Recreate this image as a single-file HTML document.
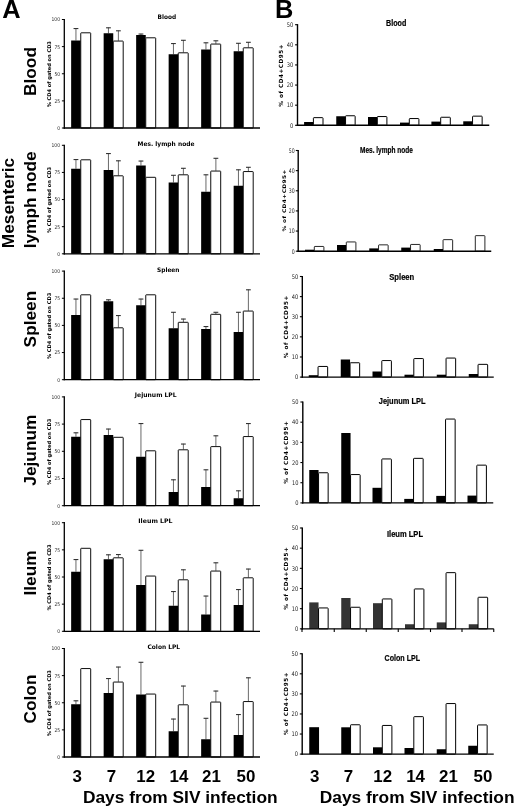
<!DOCTYPE html>
<html><head><meta charset="utf-8"><title>Figure</title>
<style>
html,body{margin:0;padding:0;background:#fff;}
svg{display:block;filter:blur(0.35px);}
</style></head>
<body>
<svg width="520" height="809" viewBox="0 0 520 809">
<rect width="520" height="809" fill="#fff"/>
<g id="a0">
<line x1="75.95" y1="28.25" x2="75.95" y2="40.50" stroke="#6a6a6a" stroke-width="1"/>
<line x1="73.55" y1="28.55" x2="78.35" y2="28.55" stroke="#333" stroke-width="1.1"/>
<rect x="71.15" y="40.50" width="9.60" height="87.50" fill="#000"/>
<rect x="80.75" y="32.80" width="9.95" height="95.20" rx="0.5" fill="#fff" stroke="#000" stroke-width="0.95"/>
<line x1="108.45" y1="27.50" x2="108.45" y2="33.25" stroke="#6a6a6a" stroke-width="1"/>
<line x1="106.05" y1="27.80" x2="110.85" y2="27.80" stroke="#333" stroke-width="1.1"/>
<line x1="118.38" y1="30.50" x2="118.38" y2="40.75" stroke="#6a6a6a" stroke-width="1"/>
<line x1="115.97" y1="30.80" x2="120.78" y2="30.80" stroke="#333" stroke-width="1.1"/>
<rect x="103.65" y="33.25" width="9.60" height="94.75" fill="#000"/>
<rect x="113.25" y="41.05" width="9.95" height="86.95" rx="0.5" fill="#fff" stroke="#000" stroke-width="0.95"/>
<line x1="140.95" y1="33.75" x2="140.95" y2="35.00" stroke="#6a6a6a" stroke-width="1"/>
<line x1="138.55" y1="34.05" x2="143.35" y2="34.05" stroke="#333" stroke-width="1.1"/>
<rect x="136.15" y="35.00" width="9.60" height="93.00" fill="#000"/>
<rect x="145.75" y="37.80" width="9.95" height="90.20" rx="0.5" fill="#fff" stroke="#000" stroke-width="0.95"/>
<line x1="173.45" y1="43.25" x2="173.45" y2="54.25" stroke="#6a6a6a" stroke-width="1"/>
<line x1="171.05" y1="43.55" x2="175.85" y2="43.55" stroke="#333" stroke-width="1.1"/>
<line x1="183.38" y1="40.00" x2="183.38" y2="52.50" stroke="#6a6a6a" stroke-width="1"/>
<line x1="180.97" y1="40.30" x2="185.78" y2="40.30" stroke="#333" stroke-width="1.1"/>
<rect x="168.65" y="54.25" width="9.60" height="73.75" fill="#000"/>
<rect x="178.25" y="52.80" width="9.95" height="75.20" rx="0.5" fill="#fff" stroke="#000" stroke-width="0.95"/>
<line x1="205.95" y1="42.50" x2="205.95" y2="49.50" stroke="#6a6a6a" stroke-width="1"/>
<line x1="203.55" y1="42.80" x2="208.35" y2="42.80" stroke="#333" stroke-width="1.1"/>
<line x1="215.88" y1="40.50" x2="215.88" y2="43.75" stroke="#6a6a6a" stroke-width="1"/>
<line x1="213.47" y1="40.80" x2="218.28" y2="40.80" stroke="#333" stroke-width="1.1"/>
<rect x="201.15" y="49.50" width="9.60" height="78.50" fill="#000"/>
<rect x="210.75" y="44.05" width="9.95" height="83.95" rx="0.5" fill="#fff" stroke="#000" stroke-width="0.95"/>
<line x1="238.45" y1="43.00" x2="238.45" y2="51.25" stroke="#6a6a6a" stroke-width="1"/>
<line x1="236.05" y1="43.30" x2="240.85" y2="43.30" stroke="#333" stroke-width="1.1"/>
<line x1="248.38" y1="42.00" x2="248.38" y2="47.50" stroke="#6a6a6a" stroke-width="1"/>
<line x1="245.97" y1="42.30" x2="250.78" y2="42.30" stroke="#333" stroke-width="1.1"/>
<rect x="233.65" y="51.25" width="9.60" height="76.75" fill="#000"/>
<rect x="243.25" y="47.80" width="9.95" height="80.20" rx="0.5" fill="#fff" stroke="#000" stroke-width="0.95"/>
<line x1="64.3" y1="18.90" x2="64.3" y2="128.65" stroke="#000" stroke-width="1.3"/>
<line x1="63.65" y1="128" x2="260" y2="128" stroke="#000" stroke-width="1.3"/>
<line x1="61.90" y1="128.00" x2="64.3" y2="128.00" stroke="#000" stroke-width="1"/>
<text font-family="DejaVu Sans, Verdana, sans-serif" font-size="5.2" font-weight="normal" text-anchor="end" fill="#2a2a2a" textLength="2.81" lengthAdjust="spacingAndGlyphs" x="60.00" y="129.90" >0</text>
<line x1="61.90" y1="100.88" x2="64.3" y2="100.88" stroke="#000" stroke-width="1"/>
<text font-family="DejaVu Sans, Verdana, sans-serif" font-size="5.2" font-weight="normal" text-anchor="end" fill="#2a2a2a" textLength="5.62" lengthAdjust="spacingAndGlyphs" x="60.00" y="102.78" >25</text>
<line x1="61.90" y1="73.75" x2="64.3" y2="73.75" stroke="#000" stroke-width="1"/>
<text font-family="DejaVu Sans, Verdana, sans-serif" font-size="5.2" font-weight="normal" text-anchor="end" fill="#2a2a2a" textLength="5.62" lengthAdjust="spacingAndGlyphs" x="60.00" y="75.65" >50</text>
<line x1="61.90" y1="46.62" x2="64.3" y2="46.62" stroke="#000" stroke-width="1"/>
<text font-family="DejaVu Sans, Verdana, sans-serif" font-size="5.2" font-weight="normal" text-anchor="end" fill="#2a2a2a" textLength="5.62" lengthAdjust="spacingAndGlyphs" x="60.00" y="48.52" >75</text>
<line x1="61.90" y1="19.50" x2="64.3" y2="19.50" stroke="#000" stroke-width="1"/>
<text font-family="DejaVu Sans, Verdana, sans-serif" font-size="5.2" font-weight="normal" text-anchor="end" fill="#2a2a2a" textLength="8.43" lengthAdjust="spacingAndGlyphs" x="60.00" y="21.40" >100</text>
<text font-family="DejaVu Sans, Verdana, sans-serif" font-size="5.1" font-weight="bold" text-anchor="middle" fill="#000" textLength="66.20" lengthAdjust="spacingAndGlyphs" transform="translate(51.20,74.20) rotate(-90)" >% CD4 of gated on CD3</text>
<text font-family="DejaVu Sans, Verdana, sans-serif" font-size="6.2" font-weight="bold" text-anchor="start" fill="#000" textLength="18.60" lengthAdjust="spacingAndGlyphs" x="157.60" y="19.30" >Blood</text>
</g>
<g id="a1">
<line x1="75.95" y1="159.25" x2="75.95" y2="168.75" stroke="#6a6a6a" stroke-width="1"/>
<line x1="73.55" y1="159.55" x2="78.35" y2="159.55" stroke="#333" stroke-width="1.1"/>
<rect x="71.15" y="168.75" width="9.60" height="85.05" fill="#000"/>
<rect x="80.75" y="159.80" width="9.95" height="94.00" rx="0.5" fill="#fff" stroke="#000" stroke-width="0.95"/>
<line x1="108.45" y1="153.25" x2="108.45" y2="170.00" stroke="#6a6a6a" stroke-width="1"/>
<line x1="106.05" y1="153.55" x2="110.85" y2="153.55" stroke="#333" stroke-width="1.1"/>
<line x1="118.38" y1="160.50" x2="118.38" y2="175.50" stroke="#6a6a6a" stroke-width="1"/>
<line x1="115.97" y1="160.80" x2="120.78" y2="160.80" stroke="#333" stroke-width="1.1"/>
<rect x="103.65" y="170.00" width="9.60" height="83.80" fill="#000"/>
<rect x="113.25" y="175.80" width="9.95" height="78.00" rx="0.5" fill="#fff" stroke="#000" stroke-width="0.95"/>
<line x1="140.95" y1="160.75" x2="140.95" y2="165.50" stroke="#6a6a6a" stroke-width="1"/>
<line x1="138.55" y1="161.05" x2="143.35" y2="161.05" stroke="#333" stroke-width="1.1"/>
<rect x="136.15" y="165.50" width="9.60" height="88.30" fill="#000"/>
<rect x="145.75" y="177.30" width="9.95" height="76.50" rx="0.5" fill="#fff" stroke="#000" stroke-width="0.95"/>
<line x1="173.45" y1="175.00" x2="173.45" y2="182.50" stroke="#6a6a6a" stroke-width="1"/>
<line x1="171.05" y1="175.30" x2="175.85" y2="175.30" stroke="#333" stroke-width="1.1"/>
<line x1="183.38" y1="168.00" x2="183.38" y2="174.50" stroke="#6a6a6a" stroke-width="1"/>
<line x1="180.97" y1="168.30" x2="185.78" y2="168.30" stroke="#333" stroke-width="1.1"/>
<rect x="168.65" y="182.50" width="9.60" height="71.30" fill="#000"/>
<rect x="178.25" y="174.80" width="9.95" height="79.00" rx="0.5" fill="#fff" stroke="#000" stroke-width="0.95"/>
<line x1="205.95" y1="174.50" x2="205.95" y2="191.75" stroke="#6a6a6a" stroke-width="1"/>
<line x1="203.55" y1="174.80" x2="208.35" y2="174.80" stroke="#333" stroke-width="1.1"/>
<line x1="215.88" y1="158.00" x2="215.88" y2="170.75" stroke="#6a6a6a" stroke-width="1"/>
<line x1="213.47" y1="158.30" x2="218.28" y2="158.30" stroke="#333" stroke-width="1.1"/>
<rect x="201.15" y="191.75" width="9.60" height="62.05" fill="#000"/>
<rect x="210.75" y="171.05" width="9.95" height="82.75" rx="0.5" fill="#fff" stroke="#000" stroke-width="0.95"/>
<line x1="238.45" y1="169.50" x2="238.45" y2="185.75" stroke="#6a6a6a" stroke-width="1"/>
<line x1="236.05" y1="169.80" x2="240.85" y2="169.80" stroke="#333" stroke-width="1.1"/>
<line x1="248.38" y1="167.00" x2="248.38" y2="171.25" stroke="#6a6a6a" stroke-width="1"/>
<line x1="245.97" y1="167.30" x2="250.78" y2="167.30" stroke="#333" stroke-width="1.1"/>
<rect x="233.65" y="185.75" width="9.60" height="68.05" fill="#000"/>
<rect x="243.25" y="171.55" width="9.95" height="82.25" rx="0.5" fill="#fff" stroke="#000" stroke-width="0.95"/>
<line x1="64.3" y1="144.70" x2="64.3" y2="254.45" stroke="#000" stroke-width="1.3"/>
<line x1="63.65" y1="253.8" x2="260" y2="253.8" stroke="#000" stroke-width="1.3"/>
<line x1="61.90" y1="253.80" x2="64.3" y2="253.80" stroke="#000" stroke-width="1"/>
<text font-family="DejaVu Sans, Verdana, sans-serif" font-size="5.2" font-weight="normal" text-anchor="end" fill="#2a2a2a" textLength="2.81" lengthAdjust="spacingAndGlyphs" x="60.00" y="255.70" >0</text>
<line x1="61.90" y1="226.68" x2="64.3" y2="226.68" stroke="#000" stroke-width="1"/>
<text font-family="DejaVu Sans, Verdana, sans-serif" font-size="5.2" font-weight="normal" text-anchor="end" fill="#2a2a2a" textLength="5.62" lengthAdjust="spacingAndGlyphs" x="60.00" y="228.58" >25</text>
<line x1="61.90" y1="199.55" x2="64.3" y2="199.55" stroke="#000" stroke-width="1"/>
<text font-family="DejaVu Sans, Verdana, sans-serif" font-size="5.2" font-weight="normal" text-anchor="end" fill="#2a2a2a" textLength="5.62" lengthAdjust="spacingAndGlyphs" x="60.00" y="201.45" >50</text>
<line x1="61.90" y1="172.43" x2="64.3" y2="172.43" stroke="#000" stroke-width="1"/>
<text font-family="DejaVu Sans, Verdana, sans-serif" font-size="5.2" font-weight="normal" text-anchor="end" fill="#2a2a2a" textLength="5.62" lengthAdjust="spacingAndGlyphs" x="60.00" y="174.33" >75</text>
<line x1="61.90" y1="145.30" x2="64.3" y2="145.30" stroke="#000" stroke-width="1"/>
<text font-family="DejaVu Sans, Verdana, sans-serif" font-size="5.2" font-weight="normal" text-anchor="end" fill="#2a2a2a" textLength="8.43" lengthAdjust="spacingAndGlyphs" x="60.00" y="147.20" >100</text>
<text font-family="DejaVu Sans, Verdana, sans-serif" font-size="5.1" font-weight="bold" text-anchor="middle" fill="#000" textLength="66.20" lengthAdjust="spacingAndGlyphs" transform="translate(51.20,200.00) rotate(-90)" >% CD4 of gated on CD3</text>
<text font-family="DejaVu Sans, Verdana, sans-serif" font-size="6.2" font-weight="bold" text-anchor="start" fill="#000" textLength="57.00" lengthAdjust="spacingAndGlyphs" x="137.50" y="145.70" >Mes. lymph node</text>
</g>
<g id="a2">
<line x1="75.95" y1="298.75" x2="75.95" y2="315.00" stroke="#6a6a6a" stroke-width="1"/>
<line x1="73.55" y1="299.05" x2="78.35" y2="299.05" stroke="#333" stroke-width="1.1"/>
<rect x="71.15" y="315.00" width="9.60" height="64.70" fill="#000"/>
<rect x="80.75" y="294.80" width="9.95" height="84.90" rx="0.5" fill="#fff" stroke="#000" stroke-width="0.95"/>
<line x1="108.45" y1="299.50" x2="108.45" y2="301.25" stroke="#6a6a6a" stroke-width="1"/>
<line x1="106.05" y1="299.80" x2="110.85" y2="299.80" stroke="#333" stroke-width="1.1"/>
<line x1="118.38" y1="315.25" x2="118.38" y2="327.50" stroke="#6a6a6a" stroke-width="1"/>
<line x1="115.97" y1="315.55" x2="120.78" y2="315.55" stroke="#333" stroke-width="1.1"/>
<rect x="103.65" y="301.25" width="9.60" height="78.45" fill="#000"/>
<rect x="113.25" y="327.80" width="9.95" height="51.90" rx="0.5" fill="#fff" stroke="#000" stroke-width="0.95"/>
<line x1="140.95" y1="298.75" x2="140.95" y2="305.25" stroke="#6a6a6a" stroke-width="1"/>
<line x1="138.55" y1="299.05" x2="143.35" y2="299.05" stroke="#333" stroke-width="1.1"/>
<rect x="136.15" y="305.25" width="9.60" height="74.45" fill="#000"/>
<rect x="145.75" y="294.80" width="9.95" height="84.90" rx="0.5" fill="#fff" stroke="#000" stroke-width="0.95"/>
<line x1="173.45" y1="312.00" x2="173.45" y2="328.25" stroke="#6a6a6a" stroke-width="1"/>
<line x1="171.05" y1="312.30" x2="175.85" y2="312.30" stroke="#333" stroke-width="1.1"/>
<line x1="183.38" y1="318.75" x2="183.38" y2="322.00" stroke="#6a6a6a" stroke-width="1"/>
<line x1="180.97" y1="319.05" x2="185.78" y2="319.05" stroke="#333" stroke-width="1.1"/>
<rect x="168.65" y="328.25" width="9.60" height="51.45" fill="#000"/>
<rect x="178.25" y="322.30" width="9.95" height="57.40" rx="0.5" fill="#fff" stroke="#000" stroke-width="0.95"/>
<line x1="205.95" y1="326.25" x2="205.95" y2="329.00" stroke="#6a6a6a" stroke-width="1"/>
<line x1="203.55" y1="326.55" x2="208.35" y2="326.55" stroke="#333" stroke-width="1.1"/>
<line x1="215.88" y1="312.00" x2="215.88" y2="314.00" stroke="#6a6a6a" stroke-width="1"/>
<line x1="213.47" y1="312.30" x2="218.28" y2="312.30" stroke="#333" stroke-width="1.1"/>
<rect x="201.15" y="329.00" width="9.60" height="50.70" fill="#000"/>
<rect x="210.75" y="314.30" width="9.95" height="65.40" rx="0.5" fill="#fff" stroke="#000" stroke-width="0.95"/>
<line x1="238.45" y1="312.00" x2="238.45" y2="332.00" stroke="#6a6a6a" stroke-width="1"/>
<line x1="236.05" y1="312.30" x2="240.85" y2="312.30" stroke="#333" stroke-width="1.1"/>
<line x1="248.38" y1="289.50" x2="248.38" y2="310.75" stroke="#6a6a6a" stroke-width="1"/>
<line x1="245.97" y1="289.80" x2="250.78" y2="289.80" stroke="#333" stroke-width="1.1"/>
<rect x="233.65" y="332.00" width="9.60" height="47.70" fill="#000"/>
<rect x="243.25" y="311.05" width="9.95" height="68.65" rx="0.5" fill="#fff" stroke="#000" stroke-width="0.95"/>
<line x1="64.3" y1="270.50" x2="64.3" y2="380.35" stroke="#000" stroke-width="1.3"/>
<line x1="63.65" y1="379.7" x2="260" y2="379.7" stroke="#000" stroke-width="1.3"/>
<line x1="61.90" y1="379.70" x2="64.3" y2="379.70" stroke="#000" stroke-width="1"/>
<text font-family="DejaVu Sans, Verdana, sans-serif" font-size="5.2" font-weight="normal" text-anchor="end" fill="#2a2a2a" textLength="2.81" lengthAdjust="spacingAndGlyphs" x="60.00" y="381.60" >0</text>
<line x1="61.90" y1="352.55" x2="64.3" y2="352.55" stroke="#000" stroke-width="1"/>
<text font-family="DejaVu Sans, Verdana, sans-serif" font-size="5.2" font-weight="normal" text-anchor="end" fill="#2a2a2a" textLength="5.62" lengthAdjust="spacingAndGlyphs" x="60.00" y="354.45" >25</text>
<line x1="61.90" y1="325.40" x2="64.3" y2="325.40" stroke="#000" stroke-width="1"/>
<text font-family="DejaVu Sans, Verdana, sans-serif" font-size="5.2" font-weight="normal" text-anchor="end" fill="#2a2a2a" textLength="5.62" lengthAdjust="spacingAndGlyphs" x="60.00" y="327.30" >50</text>
<line x1="61.90" y1="298.25" x2="64.3" y2="298.25" stroke="#000" stroke-width="1"/>
<text font-family="DejaVu Sans, Verdana, sans-serif" font-size="5.2" font-weight="normal" text-anchor="end" fill="#2a2a2a" textLength="5.62" lengthAdjust="spacingAndGlyphs" x="60.00" y="300.15" >75</text>
<line x1="61.90" y1="271.10" x2="64.3" y2="271.10" stroke="#000" stroke-width="1"/>
<text font-family="DejaVu Sans, Verdana, sans-serif" font-size="5.2" font-weight="normal" text-anchor="end" fill="#2a2a2a" textLength="8.43" lengthAdjust="spacingAndGlyphs" x="60.00" y="273.00" >100</text>
<text font-family="DejaVu Sans, Verdana, sans-serif" font-size="5.1" font-weight="bold" text-anchor="middle" fill="#000" textLength="66.20" lengthAdjust="spacingAndGlyphs" transform="translate(51.20,325.90) rotate(-90)" >% CD4 of gated on CD3</text>
<text font-family="DejaVu Sans, Verdana, sans-serif" font-size="6.2" font-weight="bold" text-anchor="start" fill="#000" textLength="22.50" lengthAdjust="spacingAndGlyphs" x="157.00" y="271.50" >Spleen</text>
</g>
<g id="a3">
<line x1="75.95" y1="432.50" x2="75.95" y2="436.75" stroke="#6a6a6a" stroke-width="1"/>
<line x1="73.55" y1="432.80" x2="78.35" y2="432.80" stroke="#333" stroke-width="1.1"/>
<rect x="71.15" y="436.75" width="9.60" height="68.95" fill="#000"/>
<rect x="80.75" y="419.55" width="9.95" height="86.15" rx="0.5" fill="#fff" stroke="#000" stroke-width="0.95"/>
<line x1="108.45" y1="428.75" x2="108.45" y2="435.00" stroke="#6a6a6a" stroke-width="1"/>
<line x1="106.05" y1="429.05" x2="110.85" y2="429.05" stroke="#333" stroke-width="1.1"/>
<rect x="103.65" y="435.00" width="9.60" height="70.70" fill="#000"/>
<rect x="113.25" y="437.30" width="9.95" height="68.40" rx="0.5" fill="#fff" stroke="#000" stroke-width="0.95"/>
<line x1="140.95" y1="423.25" x2="140.95" y2="456.75" stroke="#6a6a6a" stroke-width="1"/>
<line x1="138.55" y1="423.55" x2="143.35" y2="423.55" stroke="#333" stroke-width="1.1"/>
<rect x="136.15" y="456.75" width="9.60" height="48.95" fill="#000"/>
<rect x="145.75" y="450.80" width="9.95" height="54.90" rx="0.5" fill="#fff" stroke="#000" stroke-width="0.95"/>
<line x1="173.45" y1="479.50" x2="173.45" y2="492.00" stroke="#6a6a6a" stroke-width="1"/>
<line x1="171.05" y1="479.80" x2="175.85" y2="479.80" stroke="#333" stroke-width="1.1"/>
<line x1="183.38" y1="443.75" x2="183.38" y2="449.50" stroke="#6a6a6a" stroke-width="1"/>
<line x1="180.97" y1="444.05" x2="185.78" y2="444.05" stroke="#333" stroke-width="1.1"/>
<rect x="168.65" y="492.00" width="9.60" height="13.70" fill="#000"/>
<rect x="178.25" y="449.80" width="9.95" height="55.90" rx="0.5" fill="#fff" stroke="#000" stroke-width="0.95"/>
<line x1="205.95" y1="469.50" x2="205.95" y2="487.00" stroke="#6a6a6a" stroke-width="1"/>
<line x1="203.55" y1="469.80" x2="208.35" y2="469.80" stroke="#333" stroke-width="1.1"/>
<line x1="215.88" y1="435.50" x2="215.88" y2="446.30" stroke="#6a6a6a" stroke-width="1"/>
<line x1="213.47" y1="435.80" x2="218.28" y2="435.80" stroke="#333" stroke-width="1.1"/>
<rect x="201.15" y="487.00" width="9.60" height="18.70" fill="#000"/>
<rect x="210.75" y="446.60" width="9.95" height="59.10" rx="0.5" fill="#fff" stroke="#000" stroke-width="0.95"/>
<line x1="238.45" y1="490.50" x2="238.45" y2="498.25" stroke="#6a6a6a" stroke-width="1"/>
<line x1="236.05" y1="490.80" x2="240.85" y2="490.80" stroke="#333" stroke-width="1.1"/>
<line x1="248.38" y1="423.25" x2="248.38" y2="436.25" stroke="#6a6a6a" stroke-width="1"/>
<line x1="245.97" y1="423.55" x2="250.78" y2="423.55" stroke="#333" stroke-width="1.1"/>
<rect x="233.65" y="498.25" width="9.60" height="7.45" fill="#000"/>
<rect x="243.25" y="436.55" width="9.95" height="69.15" rx="0.5" fill="#fff" stroke="#000" stroke-width="0.95"/>
<line x1="64.3" y1="396.30" x2="64.3" y2="506.35" stroke="#000" stroke-width="1.3"/>
<line x1="63.65" y1="505.7" x2="260" y2="505.7" stroke="#000" stroke-width="1.3"/>
<line x1="61.90" y1="505.70" x2="64.3" y2="505.70" stroke="#000" stroke-width="1"/>
<text font-family="DejaVu Sans, Verdana, sans-serif" font-size="5.2" font-weight="normal" text-anchor="end" fill="#2a2a2a" textLength="2.81" lengthAdjust="spacingAndGlyphs" x="60.00" y="507.60" >0</text>
<line x1="61.90" y1="478.50" x2="64.3" y2="478.50" stroke="#000" stroke-width="1"/>
<text font-family="DejaVu Sans, Verdana, sans-serif" font-size="5.2" font-weight="normal" text-anchor="end" fill="#2a2a2a" textLength="5.62" lengthAdjust="spacingAndGlyphs" x="60.00" y="480.40" >25</text>
<line x1="61.90" y1="451.30" x2="64.3" y2="451.30" stroke="#000" stroke-width="1"/>
<text font-family="DejaVu Sans, Verdana, sans-serif" font-size="5.2" font-weight="normal" text-anchor="end" fill="#2a2a2a" textLength="5.62" lengthAdjust="spacingAndGlyphs" x="60.00" y="453.20" >50</text>
<line x1="61.90" y1="424.10" x2="64.3" y2="424.10" stroke="#000" stroke-width="1"/>
<text font-family="DejaVu Sans, Verdana, sans-serif" font-size="5.2" font-weight="normal" text-anchor="end" fill="#2a2a2a" textLength="5.62" lengthAdjust="spacingAndGlyphs" x="60.00" y="426.00" >75</text>
<line x1="61.90" y1="396.90" x2="64.3" y2="396.90" stroke="#000" stroke-width="1"/>
<text font-family="DejaVu Sans, Verdana, sans-serif" font-size="5.2" font-weight="normal" text-anchor="end" fill="#2a2a2a" textLength="8.43" lengthAdjust="spacingAndGlyphs" x="60.00" y="398.80" >100</text>
<text font-family="DejaVu Sans, Verdana, sans-serif" font-size="5.1" font-weight="bold" text-anchor="middle" fill="#000" textLength="66.20" lengthAdjust="spacingAndGlyphs" transform="translate(51.20,451.90) rotate(-90)" >% CD4 of gated on CD3</text>
<text font-family="DejaVu Sans, Verdana, sans-serif" font-size="6.2" font-weight="bold" text-anchor="start" fill="#000" textLength="41.80" lengthAdjust="spacingAndGlyphs" x="134.85" y="397.00" >Jejunum LPL</text>
</g>
<g id="a4">
<line x1="75.95" y1="559.25" x2="75.95" y2="571.75" stroke="#6a6a6a" stroke-width="1"/>
<line x1="73.55" y1="559.55" x2="78.35" y2="559.55" stroke="#333" stroke-width="1.1"/>
<rect x="71.15" y="571.75" width="9.60" height="59.55" fill="#000"/>
<rect x="80.75" y="548.30" width="9.95" height="83.00" rx="0.5" fill="#fff" stroke="#000" stroke-width="0.95"/>
<line x1="108.45" y1="554.50" x2="108.45" y2="559.25" stroke="#6a6a6a" stroke-width="1"/>
<line x1="106.05" y1="554.80" x2="110.85" y2="554.80" stroke="#333" stroke-width="1.1"/>
<line x1="118.38" y1="554.25" x2="118.38" y2="557.50" stroke="#6a6a6a" stroke-width="1"/>
<line x1="115.97" y1="554.55" x2="120.78" y2="554.55" stroke="#333" stroke-width="1.1"/>
<rect x="103.65" y="559.25" width="9.60" height="72.05" fill="#000"/>
<rect x="113.25" y="557.80" width="9.95" height="73.50" rx="0.5" fill="#fff" stroke="#000" stroke-width="0.95"/>
<line x1="140.95" y1="550.00" x2="140.95" y2="585.00" stroke="#6a6a6a" stroke-width="1"/>
<line x1="138.55" y1="550.30" x2="143.35" y2="550.30" stroke="#333" stroke-width="1.1"/>
<rect x="136.15" y="585.00" width="9.60" height="46.30" fill="#000"/>
<rect x="145.75" y="576.05" width="9.95" height="55.25" rx="0.5" fill="#fff" stroke="#000" stroke-width="0.95"/>
<line x1="173.45" y1="591.25" x2="173.45" y2="605.75" stroke="#6a6a6a" stroke-width="1"/>
<line x1="171.05" y1="591.55" x2="175.85" y2="591.55" stroke="#333" stroke-width="1.1"/>
<line x1="183.38" y1="569.50" x2="183.38" y2="579.50" stroke="#6a6a6a" stroke-width="1"/>
<line x1="180.97" y1="569.80" x2="185.78" y2="569.80" stroke="#333" stroke-width="1.1"/>
<rect x="168.65" y="605.75" width="9.60" height="25.55" fill="#000"/>
<rect x="178.25" y="579.80" width="9.95" height="51.50" rx="0.5" fill="#fff" stroke="#000" stroke-width="0.95"/>
<line x1="205.95" y1="595.75" x2="205.95" y2="614.50" stroke="#6a6a6a" stroke-width="1"/>
<line x1="203.55" y1="596.05" x2="208.35" y2="596.05" stroke="#333" stroke-width="1.1"/>
<line x1="215.88" y1="562.50" x2="215.88" y2="570.75" stroke="#6a6a6a" stroke-width="1"/>
<line x1="213.47" y1="562.80" x2="218.28" y2="562.80" stroke="#333" stroke-width="1.1"/>
<rect x="201.15" y="614.50" width="9.60" height="16.80" fill="#000"/>
<rect x="210.75" y="571.05" width="9.95" height="60.25" rx="0.5" fill="#fff" stroke="#000" stroke-width="0.95"/>
<line x1="238.45" y1="589.25" x2="238.45" y2="605.00" stroke="#6a6a6a" stroke-width="1"/>
<line x1="236.05" y1="589.55" x2="240.85" y2="589.55" stroke="#333" stroke-width="1.1"/>
<line x1="248.38" y1="568.75" x2="248.38" y2="577.50" stroke="#6a6a6a" stroke-width="1"/>
<line x1="245.97" y1="569.05" x2="250.78" y2="569.05" stroke="#333" stroke-width="1.1"/>
<rect x="233.65" y="605.00" width="9.60" height="26.30" fill="#000"/>
<rect x="243.25" y="577.80" width="9.95" height="53.50" rx="0.5" fill="#fff" stroke="#000" stroke-width="0.95"/>
<line x1="64.3" y1="522.10" x2="64.3" y2="631.95" stroke="#000" stroke-width="1.3"/>
<line x1="63.65" y1="631.3" x2="260" y2="631.3" stroke="#000" stroke-width="1.3"/>
<line x1="61.90" y1="631.30" x2="64.3" y2="631.30" stroke="#000" stroke-width="1"/>
<text font-family="DejaVu Sans, Verdana, sans-serif" font-size="5.2" font-weight="normal" text-anchor="end" fill="#2a2a2a" textLength="2.81" lengthAdjust="spacingAndGlyphs" x="60.00" y="633.20" >0</text>
<line x1="61.90" y1="604.15" x2="64.3" y2="604.15" stroke="#000" stroke-width="1"/>
<text font-family="DejaVu Sans, Verdana, sans-serif" font-size="5.2" font-weight="normal" text-anchor="end" fill="#2a2a2a" textLength="5.62" lengthAdjust="spacingAndGlyphs" x="60.00" y="606.05" >25</text>
<line x1="61.90" y1="577.00" x2="64.3" y2="577.00" stroke="#000" stroke-width="1"/>
<text font-family="DejaVu Sans, Verdana, sans-serif" font-size="5.2" font-weight="normal" text-anchor="end" fill="#2a2a2a" textLength="5.62" lengthAdjust="spacingAndGlyphs" x="60.00" y="578.90" >50</text>
<line x1="61.90" y1="549.85" x2="64.3" y2="549.85" stroke="#000" stroke-width="1"/>
<text font-family="DejaVu Sans, Verdana, sans-serif" font-size="5.2" font-weight="normal" text-anchor="end" fill="#2a2a2a" textLength="5.62" lengthAdjust="spacingAndGlyphs" x="60.00" y="551.75" >75</text>
<line x1="61.90" y1="522.70" x2="64.3" y2="522.70" stroke="#000" stroke-width="1"/>
<text font-family="DejaVu Sans, Verdana, sans-serif" font-size="5.2" font-weight="normal" text-anchor="end" fill="#2a2a2a" textLength="8.43" lengthAdjust="spacingAndGlyphs" x="60.00" y="524.60" >100</text>
<text font-family="DejaVu Sans, Verdana, sans-serif" font-size="5.1" font-weight="bold" text-anchor="middle" fill="#000" textLength="66.20" lengthAdjust="spacingAndGlyphs" transform="translate(51.20,577.50) rotate(-90)" >% CD4 of gated on CD3</text>
<text font-family="DejaVu Sans, Verdana, sans-serif" font-size="6.2" font-weight="bold" text-anchor="start" fill="#000" textLength="34.25" lengthAdjust="spacingAndGlyphs" x="138.30" y="522.50" >Ileum LPL</text>
</g>
<g id="a5">
<line x1="75.95" y1="700.50" x2="75.95" y2="704.25" stroke="#6a6a6a" stroke-width="1"/>
<line x1="73.55" y1="700.80" x2="78.35" y2="700.80" stroke="#333" stroke-width="1.1"/>
<rect x="71.15" y="704.25" width="9.60" height="52.75" fill="#000"/>
<rect x="80.75" y="668.55" width="9.95" height="88.45" rx="0.5" fill="#fff" stroke="#000" stroke-width="0.95"/>
<line x1="108.45" y1="678.25" x2="108.45" y2="693.00" stroke="#6a6a6a" stroke-width="1"/>
<line x1="106.05" y1="678.55" x2="110.85" y2="678.55" stroke="#333" stroke-width="1.1"/>
<line x1="118.38" y1="666.75" x2="118.38" y2="681.75" stroke="#6a6a6a" stroke-width="1"/>
<line x1="115.97" y1="667.05" x2="120.78" y2="667.05" stroke="#333" stroke-width="1.1"/>
<rect x="103.65" y="693.00" width="9.60" height="64.00" fill="#000"/>
<rect x="113.25" y="682.05" width="9.95" height="74.95" rx="0.5" fill="#fff" stroke="#000" stroke-width="0.95"/>
<line x1="140.95" y1="662.00" x2="140.95" y2="694.50" stroke="#6a6a6a" stroke-width="1"/>
<line x1="138.55" y1="662.30" x2="143.35" y2="662.30" stroke="#333" stroke-width="1.1"/>
<rect x="136.15" y="694.50" width="9.60" height="62.50" fill="#000"/>
<rect x="145.75" y="694.05" width="9.95" height="62.95" rx="0.5" fill="#fff" stroke="#000" stroke-width="0.95"/>
<line x1="173.45" y1="718.75" x2="173.45" y2="731.25" stroke="#6a6a6a" stroke-width="1"/>
<line x1="171.05" y1="719.05" x2="175.85" y2="719.05" stroke="#333" stroke-width="1.1"/>
<line x1="183.38" y1="685.75" x2="183.38" y2="704.50" stroke="#6a6a6a" stroke-width="1"/>
<line x1="180.97" y1="686.05" x2="185.78" y2="686.05" stroke="#333" stroke-width="1.1"/>
<rect x="168.65" y="731.25" width="9.60" height="25.75" fill="#000"/>
<rect x="178.25" y="704.80" width="9.95" height="52.20" rx="0.5" fill="#fff" stroke="#000" stroke-width="0.95"/>
<line x1="205.95" y1="718.00" x2="205.95" y2="739.25" stroke="#6a6a6a" stroke-width="1"/>
<line x1="203.55" y1="718.30" x2="208.35" y2="718.30" stroke="#333" stroke-width="1.1"/>
<line x1="215.88" y1="690.75" x2="215.88" y2="701.75" stroke="#6a6a6a" stroke-width="1"/>
<line x1="213.47" y1="691.05" x2="218.28" y2="691.05" stroke="#333" stroke-width="1.1"/>
<rect x="201.15" y="739.25" width="9.60" height="17.75" fill="#000"/>
<rect x="210.75" y="702.05" width="9.95" height="54.95" rx="0.5" fill="#fff" stroke="#000" stroke-width="0.95"/>
<line x1="238.45" y1="714.25" x2="238.45" y2="735.00" stroke="#6a6a6a" stroke-width="1"/>
<line x1="236.05" y1="714.55" x2="240.85" y2="714.55" stroke="#333" stroke-width="1.1"/>
<line x1="248.38" y1="677.50" x2="248.38" y2="701.25" stroke="#6a6a6a" stroke-width="1"/>
<line x1="245.97" y1="677.80" x2="250.78" y2="677.80" stroke="#333" stroke-width="1.1"/>
<rect x="233.65" y="735.00" width="9.60" height="22.00" fill="#000"/>
<rect x="243.25" y="701.55" width="9.95" height="55.45" rx="0.5" fill="#fff" stroke="#000" stroke-width="0.95"/>
<line x1="64.3" y1="647.90" x2="64.3" y2="757.65" stroke="#000" stroke-width="1.3"/>
<line x1="63.65" y1="757" x2="260" y2="757" stroke="#000" stroke-width="1.3"/>
<line x1="61.90" y1="757.00" x2="64.3" y2="757.00" stroke="#000" stroke-width="1"/>
<text font-family="DejaVu Sans, Verdana, sans-serif" font-size="5.2" font-weight="normal" text-anchor="end" fill="#2a2a2a" textLength="2.81" lengthAdjust="spacingAndGlyphs" x="60.00" y="758.90" >0</text>
<line x1="61.90" y1="729.88" x2="64.3" y2="729.88" stroke="#000" stroke-width="1"/>
<text font-family="DejaVu Sans, Verdana, sans-serif" font-size="5.2" font-weight="normal" text-anchor="end" fill="#2a2a2a" textLength="5.62" lengthAdjust="spacingAndGlyphs" x="60.00" y="731.77" >25</text>
<line x1="61.90" y1="702.75" x2="64.3" y2="702.75" stroke="#000" stroke-width="1"/>
<text font-family="DejaVu Sans, Verdana, sans-serif" font-size="5.2" font-weight="normal" text-anchor="end" fill="#2a2a2a" textLength="5.62" lengthAdjust="spacingAndGlyphs" x="60.00" y="704.65" >50</text>
<line x1="61.90" y1="675.62" x2="64.3" y2="675.62" stroke="#000" stroke-width="1"/>
<text font-family="DejaVu Sans, Verdana, sans-serif" font-size="5.2" font-weight="normal" text-anchor="end" fill="#2a2a2a" textLength="5.62" lengthAdjust="spacingAndGlyphs" x="60.00" y="677.52" >75</text>
<line x1="61.90" y1="648.50" x2="64.3" y2="648.50" stroke="#000" stroke-width="1"/>
<text font-family="DejaVu Sans, Verdana, sans-serif" font-size="5.2" font-weight="normal" text-anchor="end" fill="#2a2a2a" textLength="8.43" lengthAdjust="spacingAndGlyphs" x="60.00" y="650.40" >100</text>
<text font-family="DejaVu Sans, Verdana, sans-serif" font-size="5.1" font-weight="bold" text-anchor="middle" fill="#000" textLength="66.20" lengthAdjust="spacingAndGlyphs" transform="translate(51.20,703.20) rotate(-90)" >% CD4 of gated on CD3</text>
<text font-family="DejaVu Sans, Verdana, sans-serif" font-size="6.2" font-weight="bold" text-anchor="start" fill="#000" textLength="32.50" lengthAdjust="spacingAndGlyphs" x="147.50" y="648.50" >Colon LPL</text>
</g>
<g id="b0">
<rect x="304.10" y="122.00" width="9.30" height="3.30" fill="#000"/>
<rect x="313.40" y="117.65" width="9.60" height="7.65" rx="0.6" fill="#fff" stroke="#000" stroke-width="1.0"/>
<rect x="336.25" y="116.25" width="9.30" height="9.05" fill="#000"/>
<rect x="345.55" y="115.75" width="9.60" height="9.55" rx="0.6" fill="#fff" stroke="#000" stroke-width="1.0"/>
<rect x="368.00" y="117.00" width="9.30" height="8.30" fill="#000"/>
<rect x="377.30" y="116.55" width="9.60" height="8.75" rx="0.6" fill="#fff" stroke="#000" stroke-width="1.0"/>
<rect x="400.00" y="122.60" width="9.30" height="2.70" fill="#000"/>
<rect x="409.30" y="118.55" width="9.60" height="6.75" rx="0.6" fill="#fff" stroke="#000" stroke-width="1.0"/>
<rect x="431.40" y="121.60" width="9.30" height="3.70" fill="#000"/>
<rect x="440.70" y="117.25" width="9.60" height="8.05" rx="0.6" fill="#fff" stroke="#000" stroke-width="1.0"/>
<rect x="463.25" y="121.30" width="9.30" height="4.00" fill="#000"/>
<rect x="472.55" y="116.15" width="9.60" height="9.15" rx="0.6" fill="#fff" stroke="#000" stroke-width="1.0"/>
<line x1="297.5" y1="24.10" x2="297.5" y2="126.00" stroke="#000" stroke-width="1.4"/>
<line x1="296.80" y1="125.3" x2="489.25" y2="125.3" stroke="#000" stroke-width="1.4"/>
<line x1="295.10" y1="125.30" x2="297.5" y2="125.30" stroke="#000" stroke-width="1.1"/>
<text font-family="DejaVu Sans Condensed, DejaVu Sans, sans-serif" font-size="6.3" font-weight="normal" text-anchor="end" fill="#222" textLength="3.25" lengthAdjust="spacingAndGlyphs" x="293.30" y="127.60" >0</text>
<line x1="295.10" y1="105.18" x2="297.5" y2="105.18" stroke="#000" stroke-width="1.1"/>
<text font-family="DejaVu Sans Condensed, DejaVu Sans, sans-serif" font-size="6.3" font-weight="normal" text-anchor="end" fill="#222" textLength="6.49" lengthAdjust="spacingAndGlyphs" x="293.30" y="107.48" >10</text>
<line x1="295.10" y1="85.06" x2="297.5" y2="85.06" stroke="#000" stroke-width="1.1"/>
<text font-family="DejaVu Sans Condensed, DejaVu Sans, sans-serif" font-size="6.3" font-weight="normal" text-anchor="end" fill="#222" textLength="6.49" lengthAdjust="spacingAndGlyphs" x="293.30" y="87.36" >20</text>
<line x1="295.10" y1="64.94" x2="297.5" y2="64.94" stroke="#000" stroke-width="1.1"/>
<text font-family="DejaVu Sans Condensed, DejaVu Sans, sans-serif" font-size="6.3" font-weight="normal" text-anchor="end" fill="#222" textLength="6.49" lengthAdjust="spacingAndGlyphs" x="293.30" y="67.24" >30</text>
<line x1="295.10" y1="44.82" x2="297.5" y2="44.82" stroke="#000" stroke-width="1.1"/>
<text font-family="DejaVu Sans Condensed, DejaVu Sans, sans-serif" font-size="6.3" font-weight="normal" text-anchor="end" fill="#222" textLength="6.49" lengthAdjust="spacingAndGlyphs" x="293.30" y="47.12" >40</text>
<line x1="295.10" y1="24.70" x2="297.5" y2="24.70" stroke="#000" stroke-width="1.1"/>
<text font-family="DejaVu Sans Condensed, DejaVu Sans, sans-serif" font-size="6.3" font-weight="normal" text-anchor="end" fill="#222" textLength="6.49" lengthAdjust="spacingAndGlyphs" x="293.30" y="27.00" >50</text>
<text font-family="DejaVu Sans, Verdana, sans-serif" font-size="5.7" font-weight="bold" text-anchor="middle" fill="#000" textLength="62.40" lengthAdjust="spacing" transform="translate(282.90,75.60) rotate(-90)" >% of CD4+CD95+</text>
<text font-family="Liberation Sans, Arial, sans-serif" font-size="8.6" font-weight="bold" text-anchor="start" fill="#000" textLength="20.25" lengthAdjust="spacingAndGlyphs" x="386.00" y="26.25" stroke="#000" stroke-width="0.2">Blood</text>
</g>
<g id="b1">
<rect x="305.00" y="249.70" width="9.30" height="1.50" fill="#000"/>
<rect x="314.30" y="246.45" width="9.60" height="4.75" rx="0.6" fill="#fff" stroke="#000" stroke-width="0.85"/>
<rect x="337.00" y="245.00" width="9.30" height="6.20" fill="#000"/>
<rect x="346.30" y="241.95" width="9.60" height="9.25" rx="0.6" fill="#fff" stroke="#000" stroke-width="0.85"/>
<rect x="369.25" y="248.40" width="9.30" height="2.80" fill="#000"/>
<rect x="378.55" y="244.85" width="9.60" height="6.35" rx="0.6" fill="#fff" stroke="#000" stroke-width="0.85"/>
<rect x="401.25" y="247.60" width="9.30" height="3.60" fill="#000"/>
<rect x="410.55" y="244.45" width="9.60" height="6.75" rx="0.6" fill="#fff" stroke="#000" stroke-width="0.85"/>
<rect x="433.75" y="249.00" width="9.30" height="2.20" fill="#000"/>
<rect x="443.05" y="239.65" width="9.60" height="11.55" rx="0.6" fill="#fff" stroke="#000" stroke-width="0.85"/>
<rect x="475.30" y="235.65" width="9.60" height="15.55" rx="0.6" fill="#fff" stroke="#000" stroke-width="0.85"/>
<line x1="298.2" y1="149.90" x2="298.2" y2="251.90" stroke="#000" stroke-width="1.4"/>
<line x1="297.50" y1="251.2" x2="491.25" y2="251.2" stroke="#000" stroke-width="1.4"/>
<line x1="295.80" y1="251.20" x2="298.2" y2="251.20" stroke="#000" stroke-width="1.1"/>
<text font-family="DejaVu Sans Condensed, DejaVu Sans, sans-serif" font-size="6.3" font-weight="normal" text-anchor="end" fill="#222" textLength="2.96" lengthAdjust="spacingAndGlyphs" x="294.60" y="253.50" >0</text>
<line x1="295.80" y1="231.06" x2="298.2" y2="231.06" stroke="#000" stroke-width="1.1"/>
<text font-family="DejaVu Sans Condensed, DejaVu Sans, sans-serif" font-size="6.3" font-weight="normal" text-anchor="end" fill="#222" textLength="5.92" lengthAdjust="spacingAndGlyphs" x="294.60" y="233.36" >10</text>
<line x1="295.80" y1="210.92" x2="298.2" y2="210.92" stroke="#000" stroke-width="1.1"/>
<text font-family="DejaVu Sans Condensed, DejaVu Sans, sans-serif" font-size="6.3" font-weight="normal" text-anchor="end" fill="#222" textLength="5.92" lengthAdjust="spacingAndGlyphs" x="294.60" y="213.22" >20</text>
<line x1="295.80" y1="190.78" x2="298.2" y2="190.78" stroke="#000" stroke-width="1.1"/>
<text font-family="DejaVu Sans Condensed, DejaVu Sans, sans-serif" font-size="6.3" font-weight="normal" text-anchor="end" fill="#222" textLength="5.92" lengthAdjust="spacingAndGlyphs" x="294.60" y="193.08" >30</text>
<line x1="295.80" y1="170.64" x2="298.2" y2="170.64" stroke="#000" stroke-width="1.1"/>
<text font-family="DejaVu Sans Condensed, DejaVu Sans, sans-serif" font-size="6.3" font-weight="normal" text-anchor="end" fill="#222" textLength="5.92" lengthAdjust="spacingAndGlyphs" x="294.60" y="172.94" >40</text>
<line x1="295.80" y1="150.50" x2="298.2" y2="150.50" stroke="#000" stroke-width="1.1"/>
<text font-family="DejaVu Sans Condensed, DejaVu Sans, sans-serif" font-size="6.3" font-weight="normal" text-anchor="end" fill="#222" textLength="5.92" lengthAdjust="spacingAndGlyphs" x="294.60" y="152.80" >50</text>
<text font-family="DejaVu Sans, Verdana, sans-serif" font-size="4.9" font-weight="bold" text-anchor="middle" fill="#000" textLength="62.40" lengthAdjust="spacingAndGlyphs" transform="translate(286.10,200.40) rotate(-90)" letter-spacing="0.35">% of CD4+CD95+</text>
<text font-family="Liberation Sans, Arial, sans-serif" font-size="8.6" font-weight="bold" text-anchor="start" fill="#000" textLength="52.75" lengthAdjust="spacingAndGlyphs" x="360.00" y="153.00" stroke="#000" stroke-width="0.2">Mes. lymph node</text>
</g>
<g id="b2">
<rect x="308.75" y="375.20" width="9.30" height="1.90" fill="#000"/>
<rect x="318.05" y="366.45" width="9.60" height="10.65" rx="0.6" fill="#fff" stroke="#000" stroke-width="1.0"/>
<rect x="340.75" y="359.50" width="9.30" height="17.60" fill="#000"/>
<rect x="350.05" y="362.75" width="9.60" height="14.35" rx="0.6" fill="#fff" stroke="#000" stroke-width="1.0"/>
<rect x="372.50" y="371.50" width="9.30" height="5.60" fill="#000"/>
<rect x="381.80" y="360.55" width="9.60" height="16.55" rx="0.6" fill="#fff" stroke="#000" stroke-width="1.0"/>
<rect x="404.50" y="374.70" width="9.30" height="2.40" fill="#000"/>
<rect x="413.80" y="358.55" width="9.60" height="18.55" rx="0.6" fill="#fff" stroke="#000" stroke-width="1.0"/>
<rect x="436.75" y="374.70" width="9.30" height="2.40" fill="#000"/>
<rect x="446.05" y="358.05" width="9.60" height="19.05" rx="0.6" fill="#fff" stroke="#000" stroke-width="1.0"/>
<rect x="468.75" y="374.00" width="9.30" height="3.10" fill="#000"/>
<rect x="478.05" y="364.35" width="9.60" height="12.75" rx="0.6" fill="#fff" stroke="#000" stroke-width="1.0"/>
<line x1="302.3" y1="275.90" x2="302.3" y2="377.80" stroke="#000" stroke-width="1.4"/>
<line x1="301.60" y1="377.1" x2="493.75" y2="377.1" stroke="#000" stroke-width="1.4"/>
<line x1="299.90" y1="377.10" x2="302.3" y2="377.10" stroke="#000" stroke-width="1.1"/>
<text font-family="DejaVu Sans Condensed, DejaVu Sans, sans-serif" font-size="6.3" font-weight="normal" text-anchor="end" fill="#222" textLength="3.25" lengthAdjust="spacingAndGlyphs" x="298.20" y="379.40" >0</text>
<line x1="299.90" y1="356.98" x2="302.3" y2="356.98" stroke="#000" stroke-width="1.1"/>
<text font-family="DejaVu Sans Condensed, DejaVu Sans, sans-serif" font-size="6.3" font-weight="normal" text-anchor="end" fill="#222" textLength="6.49" lengthAdjust="spacingAndGlyphs" x="298.20" y="359.28" >10</text>
<line x1="299.90" y1="336.86" x2="302.3" y2="336.86" stroke="#000" stroke-width="1.1"/>
<text font-family="DejaVu Sans Condensed, DejaVu Sans, sans-serif" font-size="6.3" font-weight="normal" text-anchor="end" fill="#222" textLength="6.49" lengthAdjust="spacingAndGlyphs" x="298.20" y="339.16" >20</text>
<line x1="299.90" y1="316.74" x2="302.3" y2="316.74" stroke="#000" stroke-width="1.1"/>
<text font-family="DejaVu Sans Condensed, DejaVu Sans, sans-serif" font-size="6.3" font-weight="normal" text-anchor="end" fill="#222" textLength="6.49" lengthAdjust="spacingAndGlyphs" x="298.20" y="319.04" >30</text>
<line x1="299.90" y1="296.62" x2="302.3" y2="296.62" stroke="#000" stroke-width="1.1"/>
<text font-family="DejaVu Sans Condensed, DejaVu Sans, sans-serif" font-size="6.3" font-weight="normal" text-anchor="end" fill="#222" textLength="6.49" lengthAdjust="spacingAndGlyphs" x="298.20" y="298.92" >40</text>
<line x1="299.90" y1="276.50" x2="302.3" y2="276.50" stroke="#000" stroke-width="1.1"/>
<text font-family="DejaVu Sans Condensed, DejaVu Sans, sans-serif" font-size="6.3" font-weight="normal" text-anchor="end" fill="#222" textLength="6.49" lengthAdjust="spacingAndGlyphs" x="298.20" y="278.80" >50</text>
<text font-family="DejaVu Sans, Verdana, sans-serif" font-size="5.7" font-weight="bold" text-anchor="middle" fill="#000" textLength="62.40" lengthAdjust="spacing" transform="translate(288.10,327.00) rotate(-90)" >% of CD4+CD95+</text>
<text font-family="Liberation Sans, Arial, sans-serif" font-size="8.6" font-weight="bold" text-anchor="start" fill="#000" textLength="24.95" lengthAdjust="spacingAndGlyphs" x="389.30" y="280.40" stroke="#000" stroke-width="0.2">Spleen</text>
</g>
<g id="b3">
<rect x="309.25" y="470.00" width="9.30" height="32.90" fill="#000"/>
<rect x="318.55" y="472.75" width="9.60" height="30.15" rx="0.6" fill="#fff" stroke="#000" stroke-width="1.0"/>
<rect x="341.25" y="433.00" width="9.30" height="69.90" fill="#000"/>
<rect x="350.55" y="474.55" width="9.60" height="28.35" rx="0.6" fill="#fff" stroke="#000" stroke-width="1.0"/>
<rect x="372.50" y="487.80" width="9.30" height="15.10" fill="#000"/>
<rect x="381.80" y="458.95" width="9.60" height="43.95" rx="0.6" fill="#fff" stroke="#000" stroke-width="1.0"/>
<rect x="404.25" y="498.90" width="9.30" height="4.00" fill="#000"/>
<rect x="413.55" y="458.35" width="9.60" height="44.55" rx="0.6" fill="#fff" stroke="#000" stroke-width="1.0"/>
<rect x="436.25" y="495.90" width="9.30" height="7.00" fill="#000"/>
<rect x="445.55" y="419.05" width="9.60" height="83.85" rx="0.6" fill="#fff" stroke="#000" stroke-width="1.0"/>
<rect x="467.50" y="495.60" width="9.30" height="7.30" fill="#000"/>
<rect x="476.80" y="465.15" width="9.60" height="37.75" rx="0.6" fill="#fff" stroke="#000" stroke-width="1.0"/>
<line x1="302.8" y1="401.40" x2="302.8" y2="503.60" stroke="#000" stroke-width="1.4"/>
<line x1="302.10" y1="502.9" x2="493.25" y2="502.9" stroke="#000" stroke-width="1.4"/>
<line x1="300.40" y1="502.90" x2="302.8" y2="502.90" stroke="#000" stroke-width="1.1"/>
<text font-family="DejaVu Sans Condensed, DejaVu Sans, sans-serif" font-size="6.3" font-weight="normal" text-anchor="end" fill="#222" textLength="3.25" lengthAdjust="spacingAndGlyphs" x="298.60" y="505.20" >0</text>
<line x1="300.40" y1="482.72" x2="302.8" y2="482.72" stroke="#000" stroke-width="1.1"/>
<text font-family="DejaVu Sans Condensed, DejaVu Sans, sans-serif" font-size="6.3" font-weight="normal" text-anchor="end" fill="#222" textLength="6.49" lengthAdjust="spacingAndGlyphs" x="298.60" y="485.02" >10</text>
<line x1="300.40" y1="462.54" x2="302.8" y2="462.54" stroke="#000" stroke-width="1.1"/>
<text font-family="DejaVu Sans Condensed, DejaVu Sans, sans-serif" font-size="6.3" font-weight="normal" text-anchor="end" fill="#222" textLength="6.49" lengthAdjust="spacingAndGlyphs" x="298.60" y="464.84" >20</text>
<line x1="300.40" y1="442.36" x2="302.8" y2="442.36" stroke="#000" stroke-width="1.1"/>
<text font-family="DejaVu Sans Condensed, DejaVu Sans, sans-serif" font-size="6.3" font-weight="normal" text-anchor="end" fill="#222" textLength="6.49" lengthAdjust="spacingAndGlyphs" x="298.60" y="444.66" >30</text>
<line x1="300.40" y1="422.18" x2="302.8" y2="422.18" stroke="#000" stroke-width="1.1"/>
<text font-family="DejaVu Sans Condensed, DejaVu Sans, sans-serif" font-size="6.3" font-weight="normal" text-anchor="end" fill="#222" textLength="6.49" lengthAdjust="spacingAndGlyphs" x="298.60" y="424.48" >40</text>
<line x1="300.40" y1="402.00" x2="302.8" y2="402.00" stroke="#000" stroke-width="1.1"/>
<text font-family="DejaVu Sans Condensed, DejaVu Sans, sans-serif" font-size="6.3" font-weight="normal" text-anchor="end" fill="#222" textLength="6.49" lengthAdjust="spacingAndGlyphs" x="298.60" y="404.30" >50</text>
<text font-family="DejaVu Sans, Verdana, sans-serif" font-size="5.7" font-weight="bold" text-anchor="middle" fill="#000" textLength="62.40" lengthAdjust="spacing" transform="translate(288.10,452.50) rotate(-90)" >% of CD4+CD95+</text>
<text font-family="Liberation Sans, Arial, sans-serif" font-size="8.6" font-weight="bold" text-anchor="start" fill="#000" textLength="46.85" lengthAdjust="spacingAndGlyphs" x="378.75" y="403.70" stroke="#000" stroke-width="0.2">Jejunum LPL</text>
</g>
<g id="b4">
<rect x="309.25" y="602.40" width="9.30" height="26.45" fill="#333"/>
<rect x="318.55" y="607.95" width="9.60" height="20.90" rx="0.6" fill="#fff" stroke="#000" stroke-width="1.0"/>
<rect x="341.25" y="598.00" width="9.30" height="30.85" fill="#333"/>
<rect x="350.55" y="607.25" width="9.60" height="21.60" rx="0.6" fill="#fff" stroke="#000" stroke-width="1.0"/>
<rect x="373.00" y="603.20" width="9.30" height="25.65" fill="#333"/>
<rect x="382.30" y="598.95" width="9.60" height="29.90" rx="0.6" fill="#fff" stroke="#000" stroke-width="1.0"/>
<rect x="405.00" y="624.25" width="9.30" height="4.60" fill="#333"/>
<rect x="414.30" y="588.95" width="9.60" height="39.90" rx="0.6" fill="#fff" stroke="#000" stroke-width="1.0"/>
<rect x="436.75" y="622.40" width="9.30" height="6.45" fill="#333"/>
<rect x="446.05" y="572.65" width="9.60" height="56.20" rx="0.6" fill="#fff" stroke="#000" stroke-width="1.0"/>
<rect x="468.75" y="624.25" width="9.30" height="4.60" fill="#333"/>
<rect x="478.05" y="597.25" width="9.60" height="31.60" rx="0.6" fill="#fff" stroke="#000" stroke-width="1.0"/>
<line x1="302.3" y1="527.40" x2="302.3" y2="629.55" stroke="#000" stroke-width="1.4"/>
<line x1="301.60" y1="628.85" x2="493.75" y2="628.85" stroke="#000" stroke-width="1.4"/>
<line x1="299.90" y1="628.85" x2="302.3" y2="628.85" stroke="#000" stroke-width="1.1"/>
<text font-family="DejaVu Sans Condensed, DejaVu Sans, sans-serif" font-size="6.3" font-weight="normal" text-anchor="end" fill="#222" textLength="3.25" lengthAdjust="spacingAndGlyphs" x="298.20" y="631.15" >0</text>
<line x1="299.90" y1="608.68" x2="302.3" y2="608.68" stroke="#000" stroke-width="1.1"/>
<text font-family="DejaVu Sans Condensed, DejaVu Sans, sans-serif" font-size="6.3" font-weight="normal" text-anchor="end" fill="#222" textLength="6.49" lengthAdjust="spacingAndGlyphs" x="298.20" y="610.98" >10</text>
<line x1="299.90" y1="588.51" x2="302.3" y2="588.51" stroke="#000" stroke-width="1.1"/>
<text font-family="DejaVu Sans Condensed, DejaVu Sans, sans-serif" font-size="6.3" font-weight="normal" text-anchor="end" fill="#222" textLength="6.49" lengthAdjust="spacingAndGlyphs" x="298.20" y="590.81" >20</text>
<line x1="299.90" y1="568.34" x2="302.3" y2="568.34" stroke="#000" stroke-width="1.1"/>
<text font-family="DejaVu Sans Condensed, DejaVu Sans, sans-serif" font-size="6.3" font-weight="normal" text-anchor="end" fill="#222" textLength="6.49" lengthAdjust="spacingAndGlyphs" x="298.20" y="570.64" >30</text>
<line x1="299.90" y1="548.17" x2="302.3" y2="548.17" stroke="#000" stroke-width="1.1"/>
<text font-family="DejaVu Sans Condensed, DejaVu Sans, sans-serif" font-size="6.3" font-weight="normal" text-anchor="end" fill="#222" textLength="6.49" lengthAdjust="spacingAndGlyphs" x="298.20" y="550.47" >40</text>
<line x1="299.90" y1="528.00" x2="302.3" y2="528.00" stroke="#000" stroke-width="1.1"/>
<text font-family="DejaVu Sans Condensed, DejaVu Sans, sans-serif" font-size="6.3" font-weight="normal" text-anchor="end" fill="#222" textLength="6.49" lengthAdjust="spacingAndGlyphs" x="298.20" y="530.30" >50</text>
<line x1="302" y1="628.85" x2="302" y2="632.05" stroke="#000" stroke-width="1.1"/>
<line x1="334.25" y1="628.85" x2="334.25" y2="632.05" stroke="#000" stroke-width="1.1"/>
<line x1="366.25" y1="628.85" x2="366.25" y2="632.05" stroke="#000" stroke-width="1.1"/>
<line x1="398.25" y1="628.85" x2="398.25" y2="632.05" stroke="#000" stroke-width="1.1"/>
<line x1="430.5" y1="628.85" x2="430.5" y2="632.05" stroke="#000" stroke-width="1.1"/>
<line x1="462" y1="628.85" x2="462" y2="632.05" stroke="#000" stroke-width="1.1"/>
<line x1="493.75" y1="628.85" x2="493.75" y2="632.05" stroke="#000" stroke-width="1.1"/>
<text font-family="DejaVu Sans, Verdana, sans-serif" font-size="5.7" font-weight="bold" text-anchor="middle" fill="#000" textLength="62.40" lengthAdjust="spacing" transform="translate(288.10,578.50) rotate(-90)" >% of CD4+CD95+</text>
<text font-family="Liberation Sans, Arial, sans-serif" font-size="8.6" font-weight="bold" text-anchor="start" fill="#000" textLength="36.00" lengthAdjust="spacingAndGlyphs" x="387.00" y="537.00" stroke="#000" stroke-width="0.2">Ileum LPL</text>
</g>
<g id="b5">
<rect x="309.25" y="727.20" width="9.80" height="26.90" fill="#000"/>
<rect x="341.25" y="727.30" width="9.30" height="26.80" fill="#000"/>
<rect x="350.55" y="724.75" width="9.60" height="29.35" rx="0.6" fill="#fff" stroke="#000" stroke-width="1.0"/>
<rect x="373.00" y="747.30" width="9.30" height="6.80" fill="#000"/>
<rect x="382.30" y="725.45" width="9.60" height="28.65" rx="0.6" fill="#fff" stroke="#000" stroke-width="1.0"/>
<rect x="404.50" y="748.00" width="9.30" height="6.10" fill="#000"/>
<rect x="413.80" y="716.65" width="9.60" height="37.45" rx="0.6" fill="#fff" stroke="#000" stroke-width="1.0"/>
<rect x="436.75" y="749.25" width="9.30" height="4.85" fill="#000"/>
<rect x="446.05" y="703.55" width="9.60" height="50.55" rx="0.6" fill="#fff" stroke="#000" stroke-width="1.0"/>
<rect x="468.25" y="745.75" width="9.30" height="8.35" fill="#000"/>
<rect x="477.55" y="724.95" width="9.60" height="29.15" rx="0.6" fill="#fff" stroke="#000" stroke-width="1.0"/>
<line x1="302.2" y1="653.15" x2="302.2" y2="754.80" stroke="#000" stroke-width="1.4"/>
<line x1="301.50" y1="754.1" x2="493.75" y2="754.1" stroke="#000" stroke-width="1.4"/>
<line x1="299.80" y1="754.10" x2="302.2" y2="754.10" stroke="#000" stroke-width="1.1"/>
<text font-family="DejaVu Sans Condensed, DejaVu Sans, sans-serif" font-size="6.3" font-weight="normal" text-anchor="end" fill="#222" textLength="3.25" lengthAdjust="spacingAndGlyphs" x="298.10" y="756.40" >0</text>
<line x1="299.80" y1="734.03" x2="302.2" y2="734.03" stroke="#000" stroke-width="1.1"/>
<text font-family="DejaVu Sans Condensed, DejaVu Sans, sans-serif" font-size="6.3" font-weight="normal" text-anchor="end" fill="#222" textLength="6.49" lengthAdjust="spacingAndGlyphs" x="298.10" y="736.33" >10</text>
<line x1="299.80" y1="713.96" x2="302.2" y2="713.96" stroke="#000" stroke-width="1.1"/>
<text font-family="DejaVu Sans Condensed, DejaVu Sans, sans-serif" font-size="6.3" font-weight="normal" text-anchor="end" fill="#222" textLength="6.49" lengthAdjust="spacingAndGlyphs" x="298.10" y="716.26" >20</text>
<line x1="299.80" y1="693.89" x2="302.2" y2="693.89" stroke="#000" stroke-width="1.1"/>
<text font-family="DejaVu Sans Condensed, DejaVu Sans, sans-serif" font-size="6.3" font-weight="normal" text-anchor="end" fill="#222" textLength="6.49" lengthAdjust="spacingAndGlyphs" x="298.10" y="696.19" >30</text>
<line x1="299.80" y1="673.82" x2="302.2" y2="673.82" stroke="#000" stroke-width="1.1"/>
<text font-family="DejaVu Sans Condensed, DejaVu Sans, sans-serif" font-size="6.3" font-weight="normal" text-anchor="end" fill="#222" textLength="6.49" lengthAdjust="spacingAndGlyphs" x="298.10" y="676.12" >40</text>
<line x1="299.80" y1="653.75" x2="302.2" y2="653.75" stroke="#000" stroke-width="1.1"/>
<text font-family="DejaVu Sans Condensed, DejaVu Sans, sans-serif" font-size="6.3" font-weight="normal" text-anchor="end" fill="#222" textLength="6.49" lengthAdjust="spacingAndGlyphs" x="298.10" y="656.05" >50</text>
<text font-family="DejaVu Sans, Verdana, sans-serif" font-size="5.7" font-weight="bold" text-anchor="middle" fill="#000" textLength="62.40" lengthAdjust="spacing" transform="translate(288.10,703.75) rotate(-90)" >% of CD4+CD95+</text>
<text font-family="Liberation Sans, Arial, sans-serif" font-size="8.6" font-weight="bold" text-anchor="start" fill="#000" textLength="35.60" lengthAdjust="spacingAndGlyphs" x="384.50" y="661.20" stroke="#000" stroke-width="0.2">Colon LPL</text>
</g>
<text font-family="Liberation Sans, Arial, sans-serif" font-size="25.4" font-weight="bold" text-anchor="start" fill="#000" x="2.20" y="18.10" >A</text>
<text font-family="Liberation Sans, Arial, sans-serif" font-size="25.4" font-weight="bold" text-anchor="start" fill="#000" x="274.90" y="18.10" >B</text>
<text font-family="Liberation Sans, Arial, sans-serif" font-size="17.3" font-weight="bold" text-anchor="start" fill="#000" transform="translate(36.30,96.00) rotate(-90)" >Blood</text>
<text font-family="Liberation Sans, Arial, sans-serif" font-size="17.3" font-weight="bold" text-anchor="start" fill="#000" transform="translate(14.40,248.20) rotate(-90)" >Mesenteric</text>
<text font-family="Liberation Sans, Arial, sans-serif" font-size="17.3" font-weight="bold" text-anchor="start" fill="#000" transform="translate(36.30,248.30) rotate(-90)" >lymph node</text>
<text font-family="Liberation Sans, Arial, sans-serif" font-size="17.3" font-weight="bold" text-anchor="start" fill="#000" transform="translate(36.20,347.40) rotate(-90)" >Spleen</text>
<text font-family="Liberation Sans, Arial, sans-serif" font-size="17.3" font-weight="bold" text-anchor="start" fill="#000" transform="translate(36.30,485.70) rotate(-90)" >Jejunum</text>
<text font-family="Liberation Sans, Arial, sans-serif" font-size="17.3" font-weight="bold" text-anchor="start" fill="#000" transform="translate(36.10,595.50) rotate(-90)" >Ileum</text>
<text font-family="Liberation Sans, Arial, sans-serif" font-size="17.3" font-weight="bold" text-anchor="start" fill="#000" transform="translate(36.00,723.50) rotate(-90)" >Colon</text>
<text font-family="Liberation Sans, Arial, sans-serif" font-size="16.9" font-weight="bold" text-anchor="middle" fill="#000" x="77.10" y="781.60" >3</text>
<text font-family="Liberation Sans, Arial, sans-serif" font-size="16.9" font-weight="bold" text-anchor="middle" fill="#000" x="111.50" y="781.60" >7</text>
<text font-family="Liberation Sans, Arial, sans-serif" font-size="16.9" font-weight="bold" text-anchor="middle" fill="#000" x="145.75" y="781.60" >12</text>
<text font-family="Liberation Sans, Arial, sans-serif" font-size="16.9" font-weight="bold" text-anchor="middle" fill="#000" x="179.00" y="781.60" >14</text>
<text font-family="Liberation Sans, Arial, sans-serif" font-size="16.9" font-weight="bold" text-anchor="middle" fill="#000" x="211.50" y="781.60" >21</text>
<text font-family="Liberation Sans, Arial, sans-serif" font-size="16.9" font-weight="bold" text-anchor="middle" fill="#000" x="246.00" y="781.60" >50</text>
<text font-family="Liberation Sans, Arial, sans-serif" font-size="16.9" font-weight="bold" text-anchor="middle" fill="#000" x="314.60" y="781.60" >3</text>
<text font-family="Liberation Sans, Arial, sans-serif" font-size="16.9" font-weight="bold" text-anchor="middle" fill="#000" x="348.50" y="781.60" >7</text>
<text font-family="Liberation Sans, Arial, sans-serif" font-size="16.9" font-weight="bold" text-anchor="middle" fill="#000" x="382.75" y="781.60" >12</text>
<text font-family="Liberation Sans, Arial, sans-serif" font-size="16.9" font-weight="bold" text-anchor="middle" fill="#000" x="415.60" y="781.60" >14</text>
<text font-family="Liberation Sans, Arial, sans-serif" font-size="16.9" font-weight="bold" text-anchor="middle" fill="#000" x="448.50" y="781.60" >21</text>
<text font-family="Liberation Sans, Arial, sans-serif" font-size="16.9" font-weight="bold" text-anchor="middle" fill="#000" x="482.90" y="781.60" >50</text>
<text font-family="Liberation Sans, Arial, sans-serif" font-size="17.35" font-weight="bold" text-anchor="start" fill="#000" x="82.90" y="802.60" >Days from SIV infection</text>
<text font-family="Liberation Sans, Arial, sans-serif" font-size="17.35" font-weight="bold" text-anchor="start" fill="#000" x="319.80" y="802.60" >Days from SIV infection</text>
</svg>
</body></html>
